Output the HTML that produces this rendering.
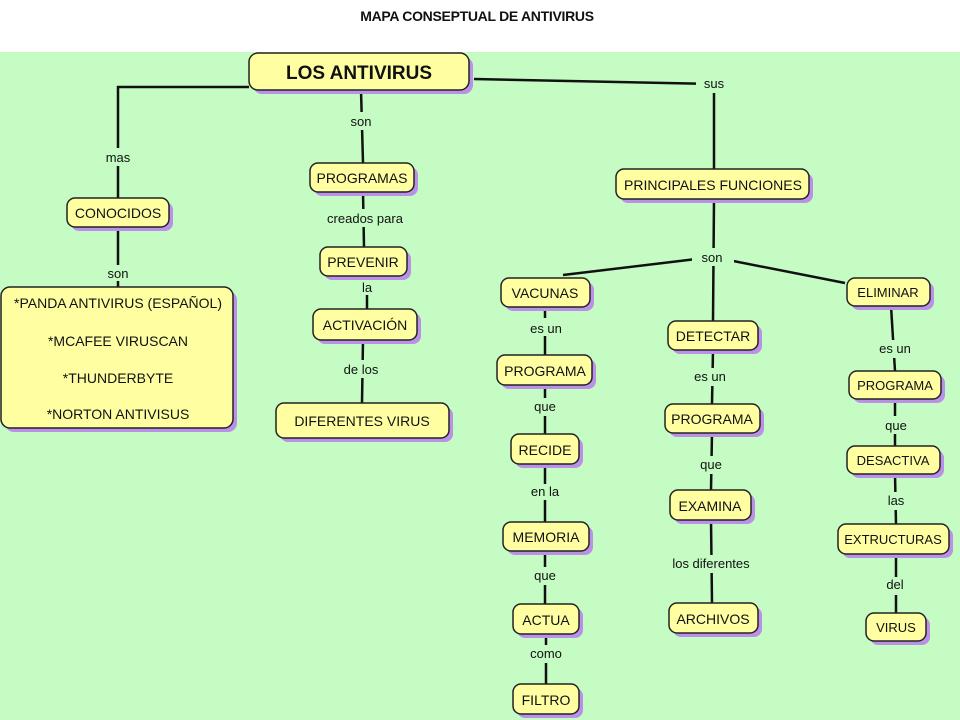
<!DOCTYPE html>
<html><head><meta charset="utf-8"><style>
html,body{margin:0;padding:0;background:#fff;}
svg{display:block;}
text{font-family:"Liberation Sans","DejaVu Sans",sans-serif;fill:#111;}
.n{font-size:14px;}
.l{font-size:13px;}
</style></head><body>
<svg width="960" height="720" viewBox="0 0 960 720" xmlns="http://www.w3.org/2000/svg">
<rect x="0" y="0" width="960" height="720" fill="#fff"/>
<rect x="0" y="52" width="960" height="668" fill="#c4fcc4"/>
<text x="477" y="21" text-anchor="middle" style="font-size:14px;font-weight:bold;letter-spacing:-0.3px">MAPA CONSEPTUAL DE ANTIVIRUS</text>
<g stroke="#111" stroke-width="2.5" fill="none">
<polyline points="249,87 118,87 118,198"/>
<line x1="118" y1="227" x2="118" y2="287"/>
<line x1="361" y1="90" x2="363" y2="163"/>
<line x1="363" y1="192" x2="364" y2="247"/>
<line x1="367" y1="276" x2="367" y2="309"/>
<line x1="363" y1="340" x2="362" y2="403"/>
<polyline points="474,79 714,84 714,169"/>
<line x1="714" y1="199" x2="713" y2="321"/>
<line x1="563" y1="275" x2="713" y2="257"/>
<line x1="713" y1="257" x2="845" y2="283"/>
<line x1="545" y1="307" x2="545" y2="355"/>
<line x1="545" y1="385" x2="545" y2="434"/>
<line x1="545" y1="464" x2="545" y2="522"/>
<line x1="545" y1="551" x2="545" y2="604"/>
<line x1="546" y1="634" x2="546" y2="684"/>
<line x1="713" y1="350" x2="712" y2="404"/>
<line x1="712" y1="433" x2="711" y2="490"/>
<line x1="711" y1="520" x2="712" y2="603"/>
<line x1="891" y1="306" x2="895" y2="371"/>
<line x1="895" y1="399" x2="895" y2="446"/>
<line x1="895" y1="474" x2="896" y2="524"/>
<line x1="896" y1="554" x2="896" y2="613"/>
</g>
<g fill="#c4fcc4" stroke="none">
<rect x="96" y="148" width="44" height="18"/>
<rect x="100" y="265" width="36" height="16"/>
<rect x="344" y="112" width="36" height="18"/>
<rect x="320" y="209" width="90" height="18"/>
<rect x="356" y="279" width="22" height="16"/>
<rect x="336" y="360" width="50" height="18"/>
<rect x="696" y="75" width="36" height="18"/>
<rect x="692" y="248" width="42" height="18"/>
<rect x="522" y="318" width="48" height="18"/>
<rect x="528" y="398" width="34" height="18"/>
<rect x="524" y="484" width="44" height="16"/>
<rect x="528" y="567" width="34" height="18"/>
<rect x="526" y="645" width="40" height="18"/>
<rect x="686" y="368" width="50" height="18"/>
<rect x="694" y="456" width="34" height="18"/>
<rect x="662" y="555" width="100" height="18"/>
<rect x="870" y="340" width="50" height="18"/>
<rect x="878" y="416" width="34" height="18"/>
<rect x="880" y="492" width="32" height="18"/>
<rect x="880" y="577" width="32" height="18"/>
</g>
<g class="l" text-anchor="middle">
<text x="118" y="162">mas</text>
<text x="118" y="278">son</text>
<text x="361" y="126">son</text>
<text x="365" y="223">creados para</text>
<text x="367" y="292">la</text>
<text x="361" y="374">de los</text>
<text x="714" y="88">sus</text>
<text x="712" y="262">son</text>
<text x="546" y="333">es un</text>
<text x="545" y="411">que</text>
<text x="545" y="496">en la</text>
<text x="545" y="580">que</text>
<text x="546" y="658">como</text>
<text x="710" y="381">es un</text>
<text x="711" y="469">que</text>
<text x="711" y="568">los diferentes</text>
<text x="895" y="353">es un</text>
<text x="896" y="430">que</text>
<text x="896" y="505">las</text>
<text x="895" y="589">del</text>
</g>
<g fill="#bb90e8"><rect x="253" y="57" width="220" height="37" rx="9"/><rect x="71" y="202" width="102" height="29" rx="8"/><rect x="314" y="167" width="104" height="29" rx="8"/><rect x="5" y="291" width="232" height="141" rx="9"/><rect x="324" y="251" width="87" height="29" rx="8"/><rect x="317" y="313" width="104" height="31" rx="8"/><rect x="280" y="407" width="173" height="35" rx="8"/><rect x="620" y="173" width="193" height="30" rx="8"/><rect x="505" y="282" width="89" height="29" rx="8"/><rect x="672" y="325" width="90" height="29" rx="8"/><rect x="851" y="282" width="83" height="28" rx="8"/><rect x="501" y="359" width="95" height="30" rx="8"/><rect x="515" y="438" width="68" height="30" rx="8"/><rect x="507" y="526" width="86" height="29" rx="8"/><rect x="517" y="608" width="66" height="30" rx="8"/><rect x="517" y="688" width="66" height="30" rx="8"/><rect x="669" y="408" width="95" height="29" rx="8"/><rect x="674" y="494" width="81" height="30" rx="8"/><rect x="673" y="607" width="89" height="30" rx="8"/><rect x="853" y="375" width="92" height="28" rx="8"/><rect x="851" y="450" width="93" height="28" rx="8"/><rect x="842" y="528" width="111" height="30" rx="8"/><rect x="870" y="617" width="60" height="28" rx="8"/></g>
<g fill="#ffffa2" stroke="#222" stroke-width="1.5"><rect x="249" y="53" width="220" height="37" rx="9"/><rect x="67" y="198" width="102" height="29" rx="8"/><rect x="310" y="163" width="104" height="29" rx="8"/><rect x="1" y="287" width="232" height="141" rx="9"/><rect x="320" y="247" width="87" height="29" rx="8"/><rect x="313" y="309" width="104" height="31" rx="8"/><rect x="276" y="403" width="173" height="35" rx="8"/><rect x="616" y="169" width="193" height="30" rx="8"/><rect x="501" y="278" width="89" height="29" rx="8"/><rect x="668" y="321" width="90" height="29" rx="8"/><rect x="847" y="278" width="83" height="28" rx="8"/><rect x="497" y="355" width="95" height="30" rx="8"/><rect x="511" y="434" width="68" height="30" rx="8"/><rect x="503" y="522" width="86" height="29" rx="8"/><rect x="513" y="604" width="66" height="30" rx="8"/><rect x="513" y="684" width="66" height="30" rx="8"/><rect x="665" y="404" width="95" height="29" rx="8"/><rect x="670" y="490" width="81" height="30" rx="8"/><rect x="669" y="603" width="89" height="30" rx="8"/><rect x="849" y="371" width="92" height="28" rx="8"/><rect x="847" y="446" width="93" height="28" rx="8"/><rect x="838" y="524" width="111" height="30" rx="8"/><rect x="866" y="613" width="60" height="28" rx="8"/></g>
<g class="n" text-anchor="middle">
<text x="359" y="79" style="font-size:19px;font-weight:bold">LOS ANTIVIRUS</text>
<text x="118" y="218">CONOCIDOS</text>
<text x="362" y="183">PROGRAMAS</text>
<text x="118" y="308">*PANDA ANTIVIRUS (ESPAÑOL)</text>
<text x="118" y="346">*MCAFEE VIRUSCAN</text>
<text x="118" y="383">*THUNDERBYTE</text>
<text x="118" y="419">*NORTON ANTIVISUS</text>
<text x="363" y="267">PREVENIR</text>
<text x="365" y="330">ACTIVACIÓN</text>
<text x="362" y="426">DIFERENTES VIRUS</text>
<text x="713" y="190">PRINCIPALES FUNCIONES</text>
<text x="545" y="298">VACUNAS</text>
<text x="713" y="341">DETECTAR</text>
<text x="888" y="297" style="font-size:13px">ELIMINAR</text>
<text x="545" y="376">PROGRAMA</text>
<text x="545" y="455">RECIDE</text>
<text x="546" y="542">MEMORIA</text>
<text x="546" y="625">ACTUA</text>
<text x="546" y="705">FILTRO</text>
<text x="712" y="424">PROGRAMA</text>
<text x="710" y="511">EXAMINA</text>
<text x="713" y="624">ARCHIVOS</text>
<text x="895" y="390" style="font-size:13px">PROGRAMA</text>
<text x="893" y="465" style="font-size:13px">DESACTIVA</text>
<text x="893" y="544" style="font-size:13px">EXTRUCTURAS</text>
<text x="896" y="632" style="font-size:13px">VIRUS</text>
</g>
</svg>
</body></html>
